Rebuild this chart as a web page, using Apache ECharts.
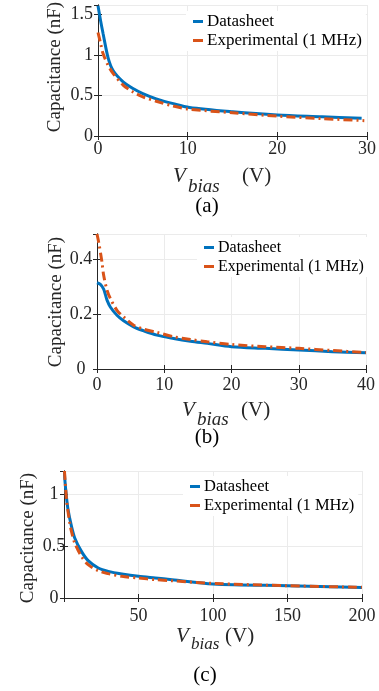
<!DOCTYPE html>
<html><head><meta charset="utf-8">
<script src="https://cdn.jsdelivr.net/npm/echarts@6/dist/echarts.min.js"></script>
<style>html,body{margin:0;padding:0;background:#fff}#c{width:379px;height:691px}</style>
</head><body><div id="c"></div>
<script>
// ---- data (a) ----
const aDsX = [0, 0.3, 0.56, 1.12, 1.68, 2.8, 3.9, 5.0, 6.5, 8.4, 10.2, 15, 20, 25, 29.4];
const aDsY = [1.61, 1.42, 1.27, 0.97, 0.81, 0.67, 0.587, 0.525, 0.46, 0.40, 0.353, 0.30, 0.26, 0.238, 0.218];
const aExX = [0, 0.3, 0.56, 1.12, 1.68, 2.8, 3.9, 5.0, 6.5, 8.4, 10.2, 15, 20, 25, 29.7];
const aExY = [1.28, 1.14, 1.02, 0.875, 0.775, 0.63, 0.545, 0.484, 0.43, 0.37, 0.332, 0.287, 0.246, 0.215, 0.19];
// ---- data (b) ----
const bDsX = [0, 0.5, 0.99, 1.25, 1.49, 1.98, 2.97, 3.96, 5.45, 6.9, 8.9, 11.4, 13.9, 16.4, 20, 25, 30, 35, 40];
const bDsY = [0.313, 0.307, 0.29, 0.27, 0.25, 0.225, 0.195, 0.175, 0.153, 0.139, 0.123, 0.111, 0.101, 0.093, 0.081, 0.075, 0.069, 0.063, 0.059];
const bExX = [0, 0.25, 0.74, 0.99, 1.49, 1.98, 2.97, 3.96, 5.45, 6.9, 8.9, 11.4, 13.9, 16.4, 20, 25, 30, 35, 40];
const bExY = [0.49, 0.46, 0.388, 0.34, 0.286, 0.256, 0.213, 0.189, 0.159, 0.145, 0.133, 0.117, 0.107, 0.099, 0.089, 0.081, 0.075, 0.067, 0.060];
// ---- data (c) ----
const cDsX = [0.3, 0.5, 1.6, 2.7, 5, 7.2, 11.7, 16.2, 23, 29.7, 38.8, 50, 61.3, 72.5, 100, 150, 200];
const cDsY = [1.22, 1.15, 0.977, 0.85, 0.69, 0.577, 0.448, 0.359, 0.288, 0.256, 0.231, 0.208, 0.192, 0.176, 0.135, 0.118, 0.102];
const cExX = [0.3, 1.6, 2.7, 3.9, 5, 7.2, 11.7, 16.2, 23, 29.7, 38.8, 50, 61.3, 72.5, 100, 150, 200];
const cExY = [1.22, 0.96, 0.83, 0.72, 0.64, 0.529, 0.40, 0.32, 0.262, 0.234, 0.208, 0.192, 0.176, 0.166, 0.14, 0.118, 0.103];

const seriesNames = ['Datasheet', 'Experimental (1 MHz)'];
const yTitle = 'Capacitance (nF)';
const panelTags = ['(a)', '(b)', '(c)'];

const FONT = 'Liberation Serif';
const INK = '#262626';
const BLUE = '#0072BD', RED = '#D95319';

const pair = (xs, ys) => xs.map((x, i) => [x, ys[i]]);

const panels = [
  {grid:{left:98, right:12, top:5, height:131}, x:{min:0,max:30,interval:10}, y:{min:0,max:1.62,interval:0.5},
   ds:pair(aDsX,aDsY), ex:pair(aExX,aExY), yAlign:'right', yMargin:5, xMargin:4, showMinX:true,
   legend:{left:186, top:11, fs:17}, yt:[55,67], xl:{v:[173,176], s:[188,187], sf:19, u:[242,176]}, tag:[207,206]},
  {grid:{left:97, right:13, top:234, height:135}, x:{min:0,max:40,interval:10}, y:{min:0,max:0.49,interval:0.2},
   ds:pair(bDsX,bDsY), ex:pair(bExX,bExY), yAlign:'center', yMargin:16, xMargin:7, showMinX:true,
   legend:{left:197, top:237, fs:16}, yt:[56,302], xl:{v:[182,410], s:[197,420], sf:19, u:[241,410]}, tag:[207,437]},
  {grid:{left:64, right:17, top:471, height:127}, x:{min:0,max:200,interval:50}, y:{min:0,max:1.22,interval:0.5},
   ds:pair(cDsX,cDsY), ex:pair(cExX,cExY), yAlign:'center', yMargin:10, xMargin:9, showMinX:false,
   legend:{left:183, top:476, fs:16.5}, yt:[28,538], xl:{v:[176,636], s:[191,645], sf:17, u:[225,636]}, tag:[205,675]}
];

const grid=[], xAxis=[], yAxis=[], series=[], legend=[], graphic=[];
panels.forEach((p, i) => {
  grid.push(p.grid);
  const line = {show:true, lineStyle:{color:INK, width:1}};
  const tick = {show:true, inside:true, length:4, lineStyle:{color:INK}};
  const split = {show:true, lineStyle:{color:'#ebebeb', width:1}};
  xAxis.push({type:'value', gridIndex:i, position:'bottom', min:p.x.min, max:p.x.max, interval:p.x.interval,
    axisLine:line, axisTick:tick, splitLine:split,
    axisLabel:{fontFamily:FONT, fontSize:18, color:INK, margin:p.xMargin, showMinLabel:p.showMinX}});
  xAxis.push({type:'value', gridIndex:i, position:'top', min:p.x.min, max:p.x.max, interval:p.x.interval,
    axisLine:line, axisTick:tick, splitLine:{show:false}, axisLabel:{show:false}});
  yAxis.push({type:'value', gridIndex:i, position:'left', min:p.y.min, max:p.y.max, interval:p.y.interval,
    axisLine:line, axisTick:tick, splitLine:split,
    axisLabel:{fontFamily:FONT, fontSize:18, color:INK, margin:p.yMargin, align:p.yAlign, showMaxLabel:false}});
  yAxis.push({type:'value', gridIndex:i, position:'right', min:p.y.min, max:p.y.max, interval:p.y.interval,
    axisLine:line, axisTick:tick, splitLine:{show:false}, axisLabel:{show:false}});
  series.push({type:'line', name:seriesNames[0], xAxisIndex:2*i, yAxisIndex:2*i, data:p.ds, symbol:'none', smooth:0.3,
    color:BLUE, itemStyle:{color:BLUE}, lineStyle:{color:BLUE, width:3}, z:2});
  series.push({type:'line', name:seriesNames[1], xAxisIndex:2*i, yAxisIndex:2*i, data:p.ex, symbol:'none', smooth:0.3,
    color:RED, itemStyle:{color:RED}, lineStyle:{color:RED, width:3, type:[9,4,2,4]}, z:3});
  legend.push({left:p.legend.left, top:p.legend.top, orient:'vertical', data:seriesNames, icon:'rect',
    itemWidth:10, itemHeight:3, itemGap:2, backgroundColor:'#fff', padding:[2,4,2,7],
    selectedMode:false, itemStyle:{borderWidth:0}, lineStyle:{width:0},
    textStyle:{fontFamily:FONT, fontSize:p.legend.fs, color:'#000', lineHeight:17, padding:[0,0,0,-1]}});
  graphic.push({type:'text', x:p.yt[0], y:p.yt[1], rotation:Math.PI/2,
    style:{text:yTitle, font:'19px "Liberation Serif"', fill:INK, align:'center', verticalAlign:'middle'}});
  graphic.push({type:'text', x:p.xl.v[0], y:p.xl.v[1],
    style:{text:'V', font:'italic 21px "Liberation Serif"', fill:INK, align:'left', verticalAlign:'middle'}});
  graphic.push({type:'text', x:p.xl.s[0], y:p.xl.s[1],
    style:{text:'bias', font:'italic ' + p.xl.sf + 'px "Liberation Serif"', fill:INK, align:'left', verticalAlign:'middle'}});
  graphic.push({type:'text', x:p.xl.u[0], y:p.xl.u[1],
    style:{text:'(V)', font:'21px "Liberation Serif"', fill:INK, align:'left', verticalAlign:'middle'}});
  graphic.push({type:'text', x:p.tag[0], y:p.tag[1],
    style:{text:panelTags[i], font:'21px "Liberation Serif"', fill:'#000', align:'center', verticalAlign:'middle'}});
});

const chart = echarts.init(document.getElementById('c'), null, {renderer:'canvas'});
chart.setOption({animation:false, backgroundColor:'#fff', grid, xAxis, yAxis, series, legend, graphic});
</script></body></html>
